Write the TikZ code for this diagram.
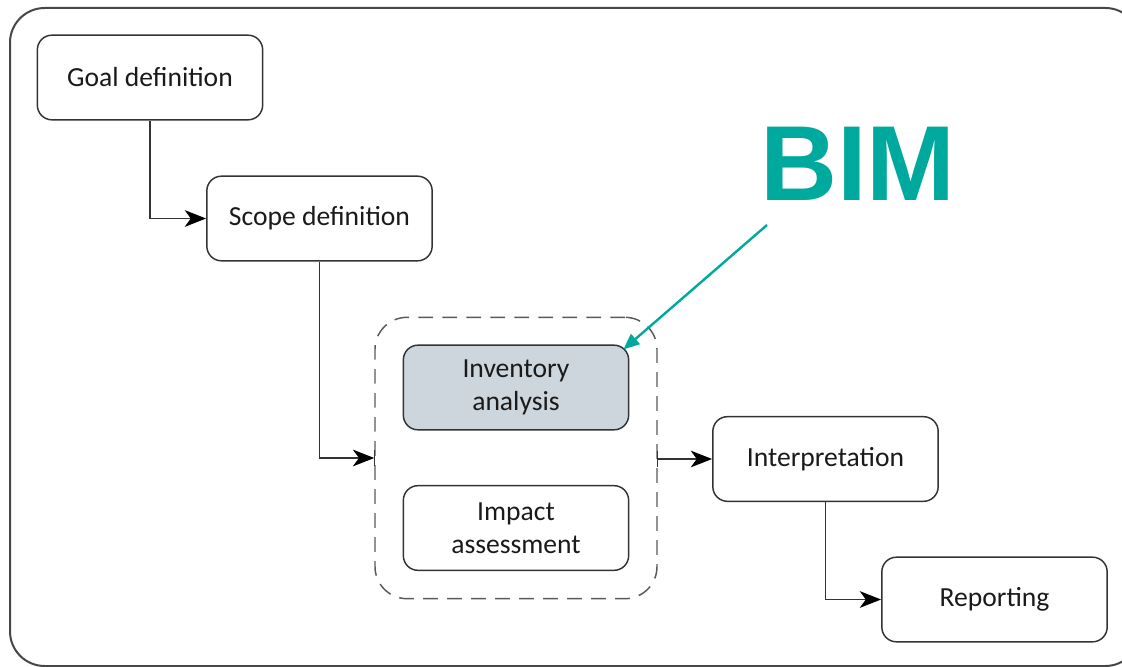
\documentclass[tikz,border=0pt]{standalone}
\usepackage{fontspec}
\setmainfont{Carlito}
\newfontfamily\bimfont{Liberation Sans}
\usetikzlibrary{arrows.meta,calc}
\definecolor{bimteal}{HTML}{00A99D}
\definecolor{invfill}{HTML}{CDD5DD}
\definecolor{boxline}{HTML}{333333}
\definecolor{txt}{HTML}{1A1A1A}
\tikzset{
  stepbox/.style={draw=boxline, line width=1.1pt, rounded corners=11pt,
    minimum width=169pt, minimum height=63.5pt, align=center,
    text=txt, font=\fontsize{20.7}{25}\selectfont, inner sep=0pt},
  conn/.style={draw=boxline, line width=1.1pt, -{Stealth[length=16pt,width=12.5pt,inset=4.5pt,color=black]}},
  tick/.style={draw=boxline, line width=1.1pt},
  groupbox/.style={draw=black!65, line width=1.1pt, rounded corners=24pt,
    dash pattern=on 11pt off 7pt, minimum width=211.5pt, minimum height=211pt, inner sep=0pt},
  bimarrow/.style={draw=bimteal, line width=1.8pt, -{Triangle[length=12pt,width=10pt]}}
}
\begin{document}
\begin{tikzpicture}[x=0.75pt,y=-0.75pt]
\useasboundingbox (0,0) rectangle (1122,667);
\clip (0,0) rectangle (1122,667);
\draw[draw=black!72, line width=1.5pt, rounded corners=26pt] (10,8) rectangle (1140,666);

\node[groupbox] (grp) at (516,458) {};
\node[stepbox] (goal) at (150,77.5) {Goal definition};
\node[stepbox] (scope) at (319.5,218.5) {Scope definition};
\node[stepbox, fill=invfill] (inv) at (516,387.5) {Inventory\\analysis};
\node[stepbox] (imp) at (516,528) {Impact\\assessment};
\node[stepbox] (interp) at (825.5,459) {Interpretation};
\node[stepbox] (rep) at (994.5,599.5) {Reporting};

\node[anchor=base west, inner sep=0pt, text=bimteal, font=\bimfont\bfseries\fontsize{80}{80}\selectfont] (bim) at (760,200) {BIM};
\coordinate (bimtail) at (767,225);

\draw[conn] (goal.south) |- (scope.west);
\draw[conn] (scope.south) |- (grp.west);
\draw[tick] ($(grp.west)+(0,-8)$) -- ($(grp.west)+(0,8)$);
\draw[conn] (grp.east |- interp.west) -- (interp.west);
\draw[tick] ($(grp.east |- interp.west)+(0,-8)$) -- ($(grp.east |- interp.west)+(0,8)$);
\draw[conn] (interp.south) |- (rep.west);
\draw[bimarrow] (bimtail) -- ($(inv.north east)+(-6,5)$);
\end{tikzpicture}
\end{document}
